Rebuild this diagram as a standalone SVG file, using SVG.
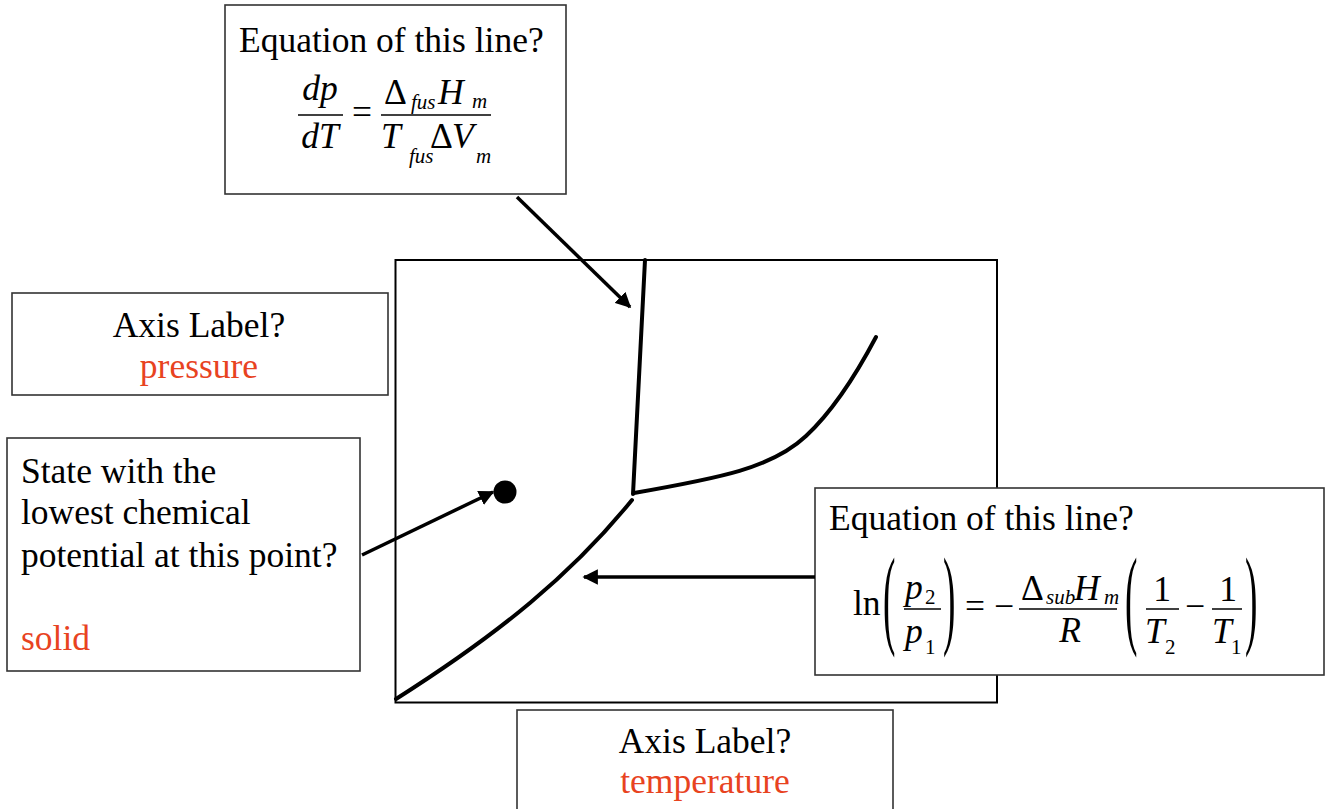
<svg xmlns="http://www.w3.org/2000/svg" width="1327" height="809" viewBox="0 0 1327 809">
<defs>
<style>
.box{fill:#fff;stroke:#333;stroke-width:1.6}
.t{font-family:"Liberation Serif","Times New Roman",serif;font-size:35.5px;fill:#000}
.i{font-style:italic}
.s{font-size:21px}
.red{fill:#E8431F}
.c{text-anchor:middle}
.bar{stroke:#000;stroke-width:1.5}
.curve{fill:none;stroke:#000;stroke-width:4;stroke-linecap:round}
.arr{fill:none;stroke:#000;stroke-width:3.5}
</style>
<marker id="ah" viewBox="0 0 10 10" refX="9" refY="5" markerWidth="4.4" markerHeight="4.4" orient="auto" markerUnits="strokeWidth">
<path d="M0,0 L10,5 L0,10 z" fill="#000"/>
</marker>
</defs>
<rect width="1327" height="809" fill="#fff"/>

<g id="plot">
<rect x="395.5" y="260" width="601.5" height="442.5" fill="#fff" stroke="#000" stroke-width="2"/>
<path class="curve" d="M645,260 L633,494"/>
<path class="curve" d="M634,493 C720,478 772,468 806,436 C834,410 857,373 876,337"/>
<path class="curve" d="M396,699 C500,633 572,574 632,500"/>
<circle cx="505" cy="492" r="11.5" fill="#000"/>
</g>

<g id="top-box">
<rect class="box" x="225" y="5" width="341" height="189"/>
<text class="t" x="239" y="52">Equation of this line?</text>
<text class="t i c" x="320" y="100">dp</text>
<line class="bar" x1="298" y1="115" x2="343" y2="115"/>
<text class="t i c" x="320" y="148">dT</text>
<text class="t c" x="362" y="124">=</text>
<text class="t" x="384" y="104">Δ</text>
<text class="t i s" x="411" y="109">fus</text>
<text class="t i" x="438" y="104">H</text>
<text class="t i s" x="472" y="108">m</text>
<line class="bar" x1="381" y1="115" x2="491" y2="115"/>
<text class="t i" x="381" y="148">T</text>
<text class="t i s" x="409" y="163">fus</text>
<text class="t" x="430" y="148">Δ</text>
<text class="t i" x="452" y="148">V</text>
<text class="t i s" x="476" y="163">m</text>
</g>

<g id="pressure-box">
<rect class="box" x="12" y="293" width="376" height="102"/>
<text class="t c" x="199" y="337">Axis Label?</text>
<text class="t c red" x="199" y="378">pressure</text>
</g>

<g id="state-box">
<rect class="box" x="7" y="438" width="353" height="233"/>
<text class="t" x="21" y="483">State with the</text>
<text class="t" x="21" y="524">lowest chemical</text>
<text class="t" x="21" y="567">potential at this point?</text>
<text class="t red" x="21" y="650">solid</text>
</g>

<g id="eq-box">
<rect class="box" x="815" y="488" width="509" height="187"/>
<text class="t" x="829" y="530">Equation of this line?</text>
<text class="t" x="853" y="615">ln</text>
<text class="t" transform="translate(883,634) scale(1.05,3.1)">(</text>
<text class="t i" x="905" y="599">p</text>
<text class="t s" x="925" y="604">2</text>
<line class="bar" x1="904" y1="609" x2="941" y2="609"/>
<text class="t i" x="905" y="643">p</text>
<text class="t s" x="925" y="654">1</text>
<text class="t" transform="translate(943,634) scale(1.05,3.1)">)</text>
<text class="t c" x="975" y="618">=</text>
<text class="t c" x="1004" y="618">−</text>
<text class="t" x="1021" y="600">Δ</text>
<text class="t i s" x="1046" y="604">sub</text>
<text class="t i" x="1074" y="600">H</text>
<text class="t i s" x="1104" y="604">m</text>
<line class="bar" x1="1019" y1="609" x2="1117" y2="609"/>
<text class="t i c" x="1070" y="642">R</text>
<text class="t" transform="translate(1125,634) scale(1.05,3.1)">(</text>
<text class="t c" x="1162" y="601">1</text>
<line class="bar" x1="1146" y1="609" x2="1179" y2="609"/>
<text class="t i" x="1145" y="643">T</text>
<text class="t s" x="1165" y="654">2</text>
<text class="t c" x="1195" y="618">−</text>
<text class="t c" x="1228" y="601">1</text>
<line class="bar" x1="1212" y1="609" x2="1242" y2="609"/>
<text class="t i" x="1212" y="643">T</text>
<text class="t s" x="1231" y="654">1</text>
<text class="t" transform="translate(1245,634) scale(1.05,3.1)">)</text>
</g>

<g id="temperature-box">
<rect class="box" x="517" y="710" width="376" height="110"/>
<text class="t c" x="705" y="753">Axis Label?</text>
<text class="t c red" x="705" y="793">temperature</text>
</g>

<g id="connectors">
<line class="arr" x1="517" y1="197" x2="630" y2="307" marker-end="url(#ah)"/>
<line class="arr" x1="362" y1="555" x2="493" y2="492" marker-end="url(#ah)"/>
<line class="arr" x1="815" y1="577" x2="584" y2="577" marker-end="url(#ah)"/>
</g>
</svg>
